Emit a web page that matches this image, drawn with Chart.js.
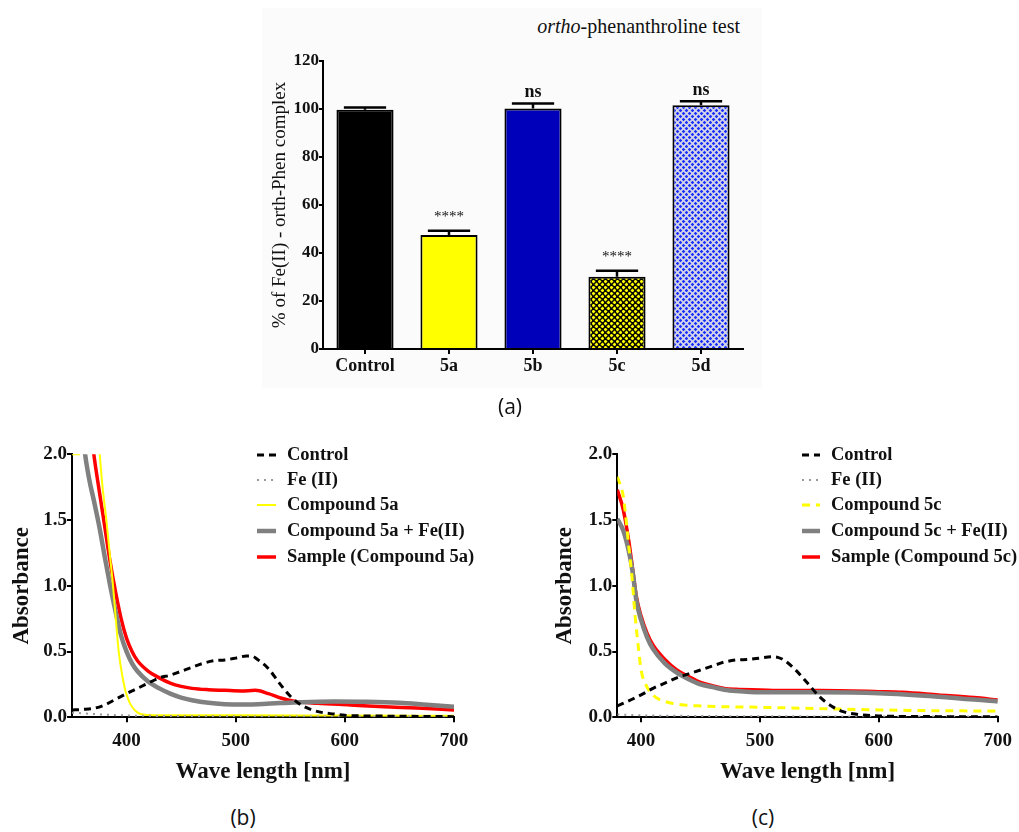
<!DOCTYPE html>
<html><head><meta charset="utf-8">
<script src="https://cdn.jsdelivr.net/npm/chart.js@4.4.1/dist/chart.umd.min.js"></script>
<style>
body{margin:0;width:1019px;height:832px;background:#fff;position:relative;overflow:hidden;font-family:'Liberation Serif',serif;}
canvas{position:absolute;}
#panelA{position:absolute;left:262px;top:8px;width:500px;height:380px;background:#fbfbfb;}
#titleA{position:absolute;right:279px;top:15px;font-size:20px;color:#111;white-space:nowrap;}
.cap{position:absolute;font-family:'Open Sans','Noto Sans',sans-serif;font-size:21px;color:#111;transform:translateX(-50%);}
</style></head>
<body>
<div id="panelA"></div>
<div id="titleA"><i>ortho</i>-phenanthroline test</div>
<canvas id="cA" width="500" height="390" style="left:262px;top:10px"></canvas>
<canvas id="cB" width="500" height="350" style="left:0px;top:440px"></canvas>
<canvas id="cC" width="499" height="350" style="left:520px;top:440px"></canvas>
<div class="cap" style="left:510px;top:392px">(a)</div>
<div class="cap" style="left:243px;top:803px">(b)</div>
<div class="cap" style="left:763px;top:803px">(c)</div>
<script>
// ---------- Data: panel (a) ----------
const barCategories = ['Control', '5a', '5b', '5c', '5d'];
const barValues = [99.7, 47.5, 100.2, 30.1, 101.6];
const barErrors = [0.9, 1.8, 2.1, 2.5, 1.6];
const barMarks = ['', '****', 'ns', '****', 'ns'];
const yTicksA = [0, 20, 40, 60, 80, 100, 120];

// ---------- Data: panel (b) ----------
const xTicksBC = [400, 500, 600, 700];
const yTicksBC = [0, 0.5, 1.0, 1.5, 2.0];
const bLabels = ['Control', 'Fe (II)', 'Compound 5a', 'Compound 5a + Fe(II)', 'Sample (Compound 5a)'];
const bControlX = [350,360,370,380,390,400,410,420,430,440,450,460,470,480,490,500,510,515,520,530,540,550,560,570,580,590,600,625,650,675,700];
const bControlY = [0.056,0.06,0.068,0.094,0.137,0.18,0.22,0.26,0.30,0.32,0.35,0.38,0.41,0.43,0.436,0.45,0.466,0.465,0.44,0.37,0.26,0.16,0.094,0.056,0.035,0.025,0.015,0.01,0.008,0.006,0.005];
const bFeX = [350,360,370,380,400,450,500,600,700];
const bFeY = [0.035,0.03,0.025,0.02,0.014,0.009,0.007,0.006,0.005];
const bCmpX = [350,357,361,371,375.4,378,381.5,384.5,387.6,390,392.8,396,399,401,403.5,408,412.7,420,450,500,600,700];
const bCmpY = [2.0,2.0,2.5,2.5,2.0,1.75,1.5,1.25,1.0,0.76,0.5,0.32,0.2,0.15,0.1,0.05,0.025,0.018,0.015,0.015,0.013,0.012];
const bCmpFeX = [358,362,366,370,375,380,385,390,395,400,405,410,420,430,440,450,460,475,490,505,520,540,560,590,620,650,675,700];
const bCmpFeY = [2.3,2.0,1.8,1.65,1.45,1.22,1.0,0.8,0.62,0.5,0.41,0.35,0.27,0.22,0.18,0.15,0.13,0.11,0.1,0.097,0.1,0.108,0.115,0.12,0.118,0.11,0.095,0.08];
const bSampleX = [366,370,375,380,385,390,395,400,405,410,420,430,440,450,460,475,490,505,518,530,542,555,575,605,636,666,700];
const bSampleY = [2.3,2.0,1.72,1.45,1.18,0.95,0.75,0.6,0.5,0.43,0.35,0.3,0.26,0.235,0.22,0.21,0.205,0.2,0.205,0.18,0.145,0.12,0.107,0.094,0.08,0.07,0.056];

// ---------- Data: panel (c) ----------
const cLabels = ['Control', 'Fe (II)', 'Compound 5c', 'Compound 5c + Fe(II)', 'Sample (Compound 5c)'];
const cControlX = [380,390,400,410,420,430,440,450,460,470,480,490,500,510,515,520,530,540,550,560,570,580,590,600,650,700];
const cControlY = [0.086,0.127,0.17,0.22,0.26,0.30,0.33,0.36,0.39,0.42,0.436,0.44,0.45,0.46,0.456,0.436,0.36,0.26,0.157,0.086,0.043,0.025,0.015,0.01,0.005,0.003];
const cFeX = [380,400,450,500,600,700];
const cFeY = [0.022,0.015,0.01,0.008,0.006,0.005];
const cCmpX = [380,385,390,392,395,398,400,405,410,415,420,430,450,500,550,600,650,700];
const cCmpY = [1.83,1.68,1.27,1.10,0.77,0.51,0.36,0.23,0.17,0.137,0.12,0.10,0.086,0.076,0.066,0.056,0.05,0.048];
const cCmpFeX = [380,385,390,393,396,400,405,410,420,430,440,450,460,470,480,500,550,600,650,700];
const cCmpFeY = [1.51,1.42,1.25,1.10,0.89,0.74,0.61,0.52,0.41,0.34,0.29,0.25,0.23,0.21,0.20,0.19,0.19,0.183,0.157,0.12];
const cSampleX = [380,385,390,393,396,400,405,410,420,430,440,450,460,470,480,500,520,550,600,620,650,680,700];
const cSampleY = [1.73,1.58,1.32,1.12,0.92,0.77,0.64,0.55,0.44,0.36,0.31,0.266,0.24,0.22,0.213,0.208,0.203,0.203,0.195,0.19,0.17,0.15,0.132];

// ---------- helpers ----------
const SERIF = "'Liberation Serif', serif";
Chart.defaults.font.family = SERIF;
Chart.defaults.color = '#111';

function pts(xs, ys) { return xs.map((x, i) => ({ x: x, y: ys[i] })); }
function setTicks(arr) { return function (scale) { scale.ticks = arr.map(v => ({ value: v })); }; }

function makePattern(bg, fg, size, dots, r) {
  const c = document.createElement('canvas');
  c.width = size; c.height = size;
  const g = c.getContext('2d');
  g.fillStyle = bg; g.fillRect(0, 0, size, size);
  g.fillStyle = fg;
  dots.forEach(d => {
    g.beginPath();
    g.moveTo(d[0], d[1] - r); g.lineTo(d[0] + r, d[1]); g.lineTo(d[0], d[1] + r); g.lineTo(d[0] - r, d[1]);
    g.closePath(); g.fill();
  });
  return document.getElementById('cA').getContext('2d').createPattern(c, 'repeat');
}
const pat5c = makePattern('#0a0a00', '#ffff00', 6, [[1.5, 1.5], [4.5, 4.5]], 2.0);
const pat5d = makePattern('#d0d3e6', '#1a2cff', 6, [[1.5, 1.5], [4.5, 4.5]], 1.8);

// ---------- panel (a) ----------
const errPlugin = {
  id: 'errbars',
  afterDatasetsDraw(chart) {
    const ctx = chart.ctx, y = chart.scales.y;
    const meta = chart.getDatasetMeta(0);
    ctx.save();
    ctx.strokeStyle = '#000'; ctx.lineWidth = 2.5; ctx.fillStyle = '#111';
    meta.data.forEach((bar, i) => {
      const top = y.getPixelForValue(barValues[i]);
      const et = y.getPixelForValue(barValues[i] + barErrors[i]);
      const half = bar.width * 0.37;
      ctx.beginPath();
      ctx.moveTo(bar.x, top); ctx.lineTo(bar.x, et);
      ctx.moveTo(bar.x - half, et); ctx.lineTo(bar.x + half, et);
      ctx.stroke();
      const m = barMarks[i];
      if (m) {
        ctx.textAlign = 'center'; ctx.textBaseline = 'middle';
        if (m === 'ns') { ctx.font = 'bold 18px ' + SERIF; ctx.fillText(m, bar.x, et - 11); }
        else { ctx.font = '15px ' + SERIF; ctx.fillText(m, bar.x, et - 14); }
      }
    });
    ctx.restore();
  }
};

new Chart(document.getElementById('cA'), {
  type: 'bar',
  data: {
    labels: barCategories,
    datasets: [{
      data: barValues,
      backgroundColor: ['#000000', '#ffff00', '#0000bb', pat5c, pat5d],
      borderColor: '#000', borderWidth: 2,
      categoryPercentage: 1.0, barPercentage: 0.68
    }]
  },
  options: {
    responsive: false, animation: false, devicePixelRatio: 1,
    layout: { padding: { top: 51, right: 19, left: 0, bottom: 0 } },
    plugins: { legend: { display: false }, tooltip: { enabled: false } },
    scales: {
      x: {
        grid: { display: true, drawOnChartArea: false, offset: false, tickLength: 5, color: '#000', lineWidth: 2 },
        border: { display: true, color: '#000', width: 2 },
        ticks: { font: { family: SERIF, size: 18, weight: 'bold' }, color: '#111', padding: 2 },
        afterFit(s) { s.height = 51; }
      },
      y: {
        min: 0, max: 120,
        afterBuildTicks: setTicks(yTicksA),
        grid: { display: true, drawOnChartArea: false, tickLength: 4, color: '#000', lineWidth: 2 },
        border: { display: true, color: '#000', width: 2 },
        ticks: { font: { family: SERIF, size: 17, weight: 'bold' }, color: '#111', padding: 0 },
        title: { display: true, text: '% of Fe(II) - orth-Phen complex', font: { family: SERIF, size: 19 }, color: '#111', padding: { top: 7, bottom: 0 } },
        afterFit(s) { s.width = 61; }
      }
    }
  },
  plugins: [errPlugin]
});

// ---------- panels (b), (c) ----------
const legendPlugin = {
  id: 'customLegend',
  afterDraw(chart, args, opts) {
    const ctx = chart.ctx;
    ctx.save();
    chart.data.datasets.forEach((ds, i) => {
      const y = opts.rows[i];
      ctx.beginPath();
      ctx.setLineDash(ds.borderDash || []);
      ctx.lineWidth = ds.borderWidth; ctx.strokeStyle = ds.borderColor;
      ctx.moveTo(opts.x1, y); ctx.lineTo(opts.x2, y); ctx.stroke();
      ctx.setLineDash([]);
      ctx.font = 'bold 18.5px ' + SERIF; ctx.fillStyle = '#111';
      ctx.textAlign = 'left'; ctx.textBaseline = 'middle';
      ctx.fillText(ds.label, opts.tx, y);
    });
    ctx.restore();
  }
};

function lineSets(labels, series, yellowDash) {
  const styles = [
    { borderColor: '#000', borderWidth: 3, borderDash: [7, 5] },
    { borderColor: '#999', borderWidth: 2, borderDash: [2, 5] },
    { borderColor: '#ffff00', borderWidth: yellowDash ? 3 : 2, borderDash: yellowDash ? [8, 6] : [] },
    { borderColor: '#808080', borderWidth: 4.5, borderDash: [] },
    { borderColor: '#ff0000', borderWidth: 3.5, borderDash: [] }
  ];
  return series.map((s, i) => Object.assign({
    label: labels[i], data: pts(s[0], s[1]), pointRadius: 0, fill: false,
    cubicInterpolationMode: 'monotone'
  }, styles[i]));
}

function lineOptions(xmin, ytitlePad, yWidth, padRight, legendOpts) {
  return {
    responsive: false, animation: false, devicePixelRatio: 1,
    layout: { padding: { top: 14.3, right: padRight, left: 0, bottom: 0 } },
    plugins: { legend: { display: false }, tooltip: { enabled: false }, customLegend: legendOpts },
    scales: {
      x: {
        type: 'linear', min: xmin, max: 700,
        afterBuildTicks: setTicks(xTicksBC),
        grid: { display: true, drawOnChartArea: false, tickLength: 5, color: '#000', lineWidth: 2 },
        border: { display: true, color: '#000', width: 2 },
        ticks: { font: { family: SERIF, size: 19, weight: 'bold' }, color: '#111', padding: 7 },
        title: { display: true, text: 'Wave length [nm]', font: { family: SERIF, size: 23, weight: 'bold' }, color: '#111', padding: { top: 0, bottom: 4 } },
        afterFit(s) { s.height = 72.7; }
      },
      y: {
        min: 0, max: 2,
        afterBuildTicks: setTicks(yTicksBC),
        grid: { display: true, drawOnChartArea: false, tickLength: 5, color: '#000', lineWidth: 2 },
        border: { display: true, color: '#000', width: 2 },
        ticks: { font: { family: SERIF, size: 19, weight: 'bold' }, color: '#111', padding: 0, callback: v => v.toFixed(1) },
        title: { display: true, text: 'Absorbance', font: { family: SERIF, size: 23, weight: 'bold' }, color: '#111', padding: { top: ytitlePad, bottom: 0 } },
        afterFit(s) { s.width = yWidth; }
      }
    }
  };
}

new Chart(document.getElementById('cB'), {
  type: 'line',
  data: { datasets: lineSets(bLabels, [[bControlX, bControlY], [bFeX, bFeY], [bCmpX, bCmpY], [bCmpFeX, bCmpFeY], [bSampleX, bSampleY]], false) },
  options: lineOptions(350, 8, 72, 46, { x1: 257, x2: 276, tx: 287, rows: [15, 40, 65, 91, 117] }),
  plugins: [legendPlugin]
});

new Chart(document.getElementById('cC'), {
  type: 'line',
  data: { datasets: lineSets(cLabels, [[cControlX, cControlY], [cFeX, cFeY], [cCmpX, cCmpY], [cCmpFeX, cCmpFeY], [cSampleX, cSampleY]], true) },
  options: lineOptions(380, 31, 97.3, 20.7, { x1: 282, x2: 300, tx: 311, rows: [15, 40, 65, 91, 117] }),
  plugins: [legendPlugin]
});
</script>
</body></html>
